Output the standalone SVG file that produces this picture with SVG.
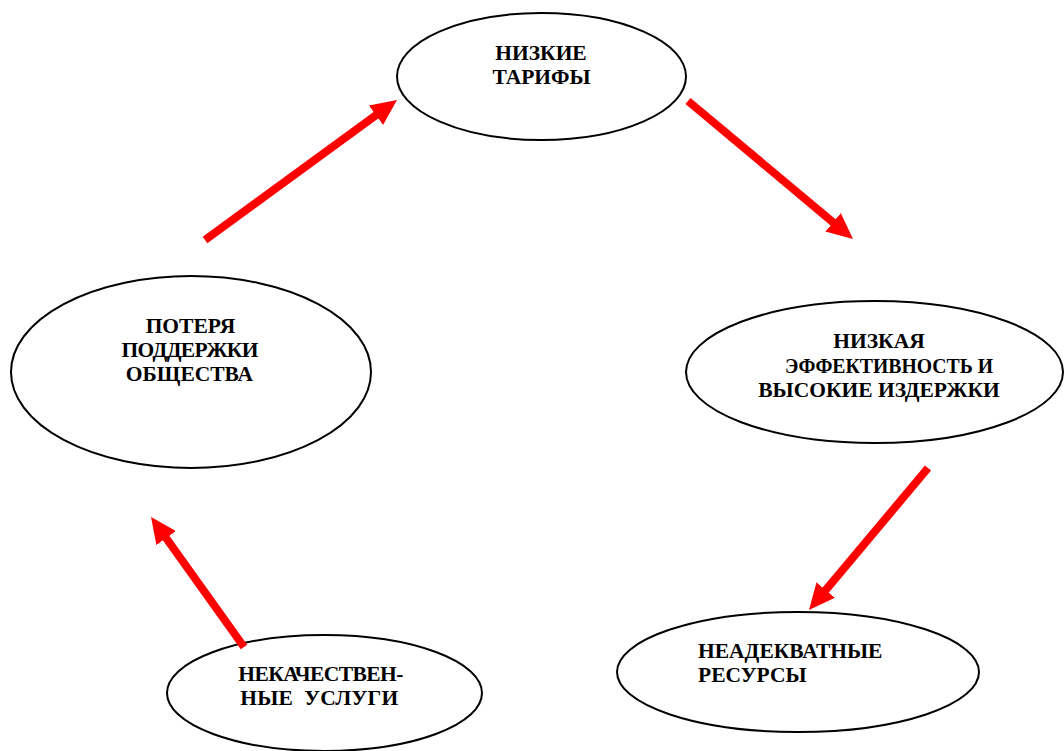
<svg xmlns="http://www.w3.org/2000/svg" width="1064" height="751" viewBox="0 0 1064 751">
<style>
.node ellipse{fill:#fff;stroke:#000;stroke-width:2}
.node text{font-family:'Liberation Serif','Times New Roman',serif;font-weight:bold;font-size:21.5px;fill:#000}
.c{text-anchor:middle}
.arr{stroke:#ff0000;stroke-width:8;fill:none;marker-end:url(#ah)}
</style>
<defs>
<marker id="ah" markerUnits="userSpaceOnUse" markerWidth="26" markerHeight="24" refX="2" refY="12" orient="auto" viewBox="0 0 26 24">
<path d="M0,0 L26,12 L0,24 z" fill="#ff0000"/>
</marker>
</defs>
<rect width="1064" height="751" fill="#fff"/>
<g id="n1" class="node">
<ellipse cx="541.5" cy="76.5" rx="144.5" ry="63.5"/>
<text class="c" x="541" y="59.5">НИЗКИЕ</text>
<text class="c" x="541.5" y="83.5">ТАРИФЫ</text>
</g>
<g id="n2" class="node">
<ellipse cx="874.5" cy="372" rx="188.5" ry="71"/>
<text class="c" x="879" y="348">НИЗКАЯ</text>
<text class="c" x="889" y="373" textLength="208" lengthAdjust="spacingAndGlyphs">ЭФФЕКТИВНОСТЬ И</text>
<text class="c" x="879" y="397">ВЫСОКИЕ ИЗДЕРЖКИ</text>
</g>
<g id="n3" class="node">
<ellipse cx="798" cy="672" rx="181" ry="60"/>
<text x="698" y="657.5">НЕАДЕКВАТНЫЕ</text>
<text x="698" y="682">РЕСУРСЫ</text>
</g>
<g id="n4" class="node">
<ellipse cx="324.5" cy="693" rx="157.5" ry="58"/>
<text class="c" x="320.8" y="681" textLength="165">НЕКАЧЕСТВЕН-</text>
<text class="c" x="319.2" y="705" textLength="158" xml:space="preserve">НЫЕ  УСЛУГИ</text>
</g>
<g id="n5" class="node">
<ellipse cx="191" cy="372" rx="180" ry="96"/>
<text class="c" x="190.5" y="333">ПОТЕРЯ</text>
<text class="c" x="190" y="356.5" textLength="137">ПОДДЕРЖКИ</text>
<text class="c" x="189.5" y="381">ОБЩЕСТВА</text>
</g>
<g id="connectors">
<line class="arr" x1="205" y1="240" x2="377.6" y2="114.1"/>
<line class="arr" x1="688" y1="101" x2="834.6" y2="223.6"/>
<line class="arr" x1="928" y1="468" x2="824.4" y2="591.6"/>
<line class="arr" x1="244" y1="647" x2="165" y2="536.5"/>
</g>
</svg>
